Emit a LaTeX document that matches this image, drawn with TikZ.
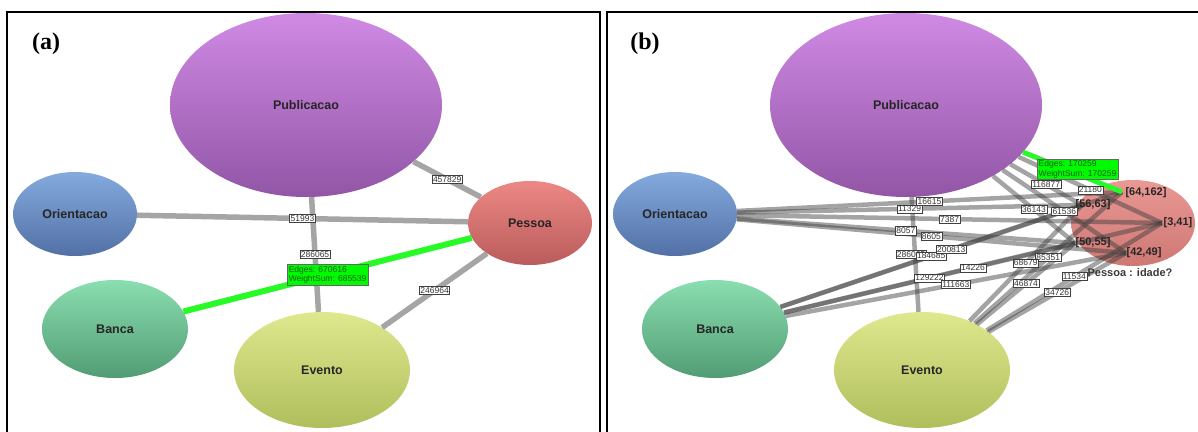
\documentclass[tikz,border=0pt]{standalone}
\usepackage{fontspec}
\setmainfont{Liberation Sans}
\newfontfamily\panelfont{Liberation Serif}
\usetikzlibrary{shapes.geometric}

\definecolor{pubtop}{RGB}{208,138,228}
\definecolor{pubbot}{RGB}{146,86,166}
\definecolor{oritop}{RGB}{132,170,222}
\definecolor{oribot}{RGB}{82,112,166}
\definecolor{pestop}{RGB}{236,136,132}
\definecolor{pesbot}{RGB}{186,92,92}
\definecolor{pesltop}{RGB}{234,152,148}
\definecolor{peslbot}{RGB}{206,120,116}
\definecolor{bantop}{RGB}{138,222,176}
\definecolor{banbot}{RGB}{82,156,116}
\definecolor{evetop}{RGB}{222,232,142}
\definecolor{evebot}{RGB}{176,190,92}
\definecolor{edgegray}{RGB}{165,165,165}
\definecolor{hilite}{RGB}{40,250,40}
\definecolor{boxgreen}{RGB}{0,250,0}
\definecolor{boxtext}{RGB}{20,95,20}

\begin{document}
\begin{tikzpicture}[x=1pt,y=-1pt,
  blob/.style={ellipse, inner sep=0pt, font=\fontsize{12.5}{12.5}\selectfont\bfseries, text=black!85},
  aedge/.style={draw=edgegray, line width=5.5pt},
  bedge/.style={draw=black!75, line width=4.5pt, opacity=0.48},
  gedge/.style={draw=hilite, line width=6pt},
  lbl/.style={draw=black!75, line width=0.5pt, fill=white, inner sep=1pt,
    font=\fontsize{8.5}{9}\selectfont, text=black!80},
  glbl/.style={draw=black!60, line width=0.5pt, fill=boxgreen, inner sep=1.5pt,
    align=left, font=\fontsize{8.5}{9.5}\selectfont, text=boxtext},
  sublbl/.style={inner sep=0pt, font=\fontsize{11}{11}\selectfont\bfseries, text=black!85},
  frame/.style={draw=black, line width=2pt},
  tag/.style={inner sep=0pt, font=\panelfont\fontsize{24}{24}\selectfont\bfseries}]
\useasboundingbox (0,0) rectangle (1198,431);
\clip (0,0) rectangle (1198,431);

% ---------- panel frames and tags ----------
\draw[frame] (7,445) -- (7,12) -- (600,12) -- (600,445);
\draw[frame] (607,445) -- (607,12) -- (1210,12) -- (1210,445);
\node[tag] (taga) at (46,44) {(a)};
\node[tag] (tagb) at (645,44) {(b)};

% ---------- panel (a): aggregated graph ----------
\node[blob, minimum width=272pt, minimum height=184pt, top color=pubtop, bottom color=pubbot] (pubA) at (306,105) {Publicacao};
\node[blob, minimum width=124pt, minimum height=84pt, top color=oritop, bottom color=oribot] (oriA) at (75,214) {Orientacao};
\node[blob, minimum width=124pt, minimum height=84pt, top color=pestop, bottom color=pesbot] (pesA) at (530,223) {Pessoa};
\node[blob, minimum width=146pt, minimum height=98pt, top color=bantop, bottom color=banbot] (banA) at (115,329) {Banca};
\node[blob, minimum width=176pt, minimum height=116pt, top color=evetop, bottom color=evebot] (eveA) at (322,370) {Evento};

\draw[aedge] (pubA) -- coordinate[pos=.5] (ma1) (pesA);
\draw[aedge] (oriA) -- coordinate[pos=.5] (ma2) (pesA);
\draw[aedge] (pubA) -- coordinate[pos=.5] (ma3) (eveA);
\draw[aedge] (eveA) -- coordinate[pos=.5] (ma4) (pesA);
\draw[gedge] (banA) -- coordinate[pos=.5] (ma5) (pesA);

\node[lbl] (la1) at (ma1) {457829};
\node[lbl] (la2) at (ma2) {51993};
\node[lbl] (la3) at (ma3) {286065};
\node[lbl] (la4) at (ma4) {246964};
\node[glbl] (la5) at (ma5) {Edges: 670616\\WeightSum: 685539};

% ---------- panel (b): Pessoa split by idade ----------
\node[ellipse, inner sep=0pt, minimum width=124pt, minimum height=86pt, top color=pesltop, bottom color=peslbot] (pesB) at (1133,223) {};
\node[blob, minimum width=272pt, minimum height=184pt, top color=pubtop, bottom color=pubbot] (pubB) at (906,105) {Publicacao};
\node[blob, minimum width=124pt, minimum height=84pt, top color=oritop, bottom color=oribot] (oriB) at (675,214) {Orientacao};
\node[blob, minimum width=146pt, minimum height=98pt, top color=bantop, bottom color=banbot] (banB) at (715,329) {Banca};
\node[blob, minimum width=176pt, minimum height=116pt, top color=evetop, bottom color=evebot] (eveB) at (922,370) {Evento};

% age groups inside Pessoa
\coordinate (s64) at (1122,192);
\coordinate (s56) at (1082,205);
\coordinate (s3)  at (1162,223);
\coordinate (s50) at (1075,243);
\coordinate (s42) at (1126,253);

\draw[bedge] (pubB) -- coordinate[pos=.5] (mpe) (eveB);

\draw[bedge] (pubB) -- coordinate[pos=.5] (mp56) (s56);
\draw[bedge] (pubB) -- coordinate[pos=.5] (mp3) (s3);
\draw[bedge] (pubB) -- coordinate[pos=.5] (mp50) (s50);
\draw[bedge] (pubB) -- coordinate[pos=.5] (mp42) (s42);

\draw[bedge] (oriB) -- coordinate[pos=.5] (mo64) (s64);
\draw[bedge] (oriB) -- coordinate[pos=.5] (mo56) (s56);
\draw[bedge] (oriB) -- coordinate[pos=.5] (mo3) (s3);
\draw[bedge] (oriB) -- coordinate[pos=.5] (mo50) (s50);
\draw[bedge] (oriB) -- coordinate[pos=.5] (mo42) (s42);

\draw[bedge] (banB) -- coordinate[pos=.5] (mb64) (s64);
\draw[bedge] (banB) -- coordinate[pos=.5] (mb56) (s56);
\draw[bedge] (banB) -- coordinate[pos=.5] (mb3) (s3);
\draw[bedge] (banB) -- coordinate[pos=.5] (mb50) (s50);
\draw[bedge] (banB) -- coordinate[pos=.5] (mb42) (s42);

\draw[bedge] (eveB) -- coordinate[pos=.5] (me64) (s64);
\draw[bedge] (eveB) -- coordinate[pos=.5] (me56) (s56);
\draw[bedge] (eveB) -- coordinate[pos=.5] (me3) (s3);
\draw[bedge] (eveB) -- coordinate[pos=.5] (me50) (s50);
\draw[bedge] (eveB) -- coordinate[pos=.5] (me42) (s42);

\draw[gedge, line width=5pt] (pubB) -- coordinate[pos=.5] (mp64) (s64);

% group labels
\node[sublbl] (k64) at (1146,193) {[64,162]};
\node[sublbl] (k56) at (1093,205) {[56,63]};
\node[sublbl] (k3)  at (1178,223) {[3,41]};
\node[sublbl] (k50) at (1093,243) {[50,55]};
\node[sublbl] (k42) at (1144,253) {[42,49]};
\node[sublbl, text=black!78] (kname) at (1130,273) {Pessoa : idade?};

% edge weights
\node[lbl] (lpe) at ([xshift=-4pt]mpe) {286065};
\node[lbl] (lo64) at (mo64) {16615};
\node[lbl] (lo56) at (mo56) {11329};
\node[lbl] (lo3)  at (mo3)  {7387};
\node[lbl] (lo50) at (mo50) {8057};
\node[lbl] (lo42) at (mo42) {8605};
\node[lbl] (lb56) at (mb56) {184685};
\node[lbl] (lb64) at (mb64) {200813};
\node[lbl] (lb3)  at (mb3)  {14226};
\node[lbl] (lb50) at (mb50) {129222};
\node[lbl] (lb42) at (mb42) {111663};
\node[lbl] (le64) at (me64) {85351};
\node[lbl] (le56) at (me56) {68679};
\node[lbl] (le3)  at (me3)  {11534};
\node[lbl] (le50) at (me50) {46874};
\node[lbl] (le42) at (me42) {34726};
\node[lbl] (lp50) at (mp50) {36143};
\node[lbl] (lp42) at (mp42) {61536};
\node[lbl] (lp3)  at (mp3)  {21180};
\node[lbl] (lp56) at (mp56) {116877};
\node[glbl] (lp64) at ([xshift=5pt,yshift=3pt]mp64) {Edges: 170259\\WeightSum: 170259};
\end{tikzpicture}
\end{document}
